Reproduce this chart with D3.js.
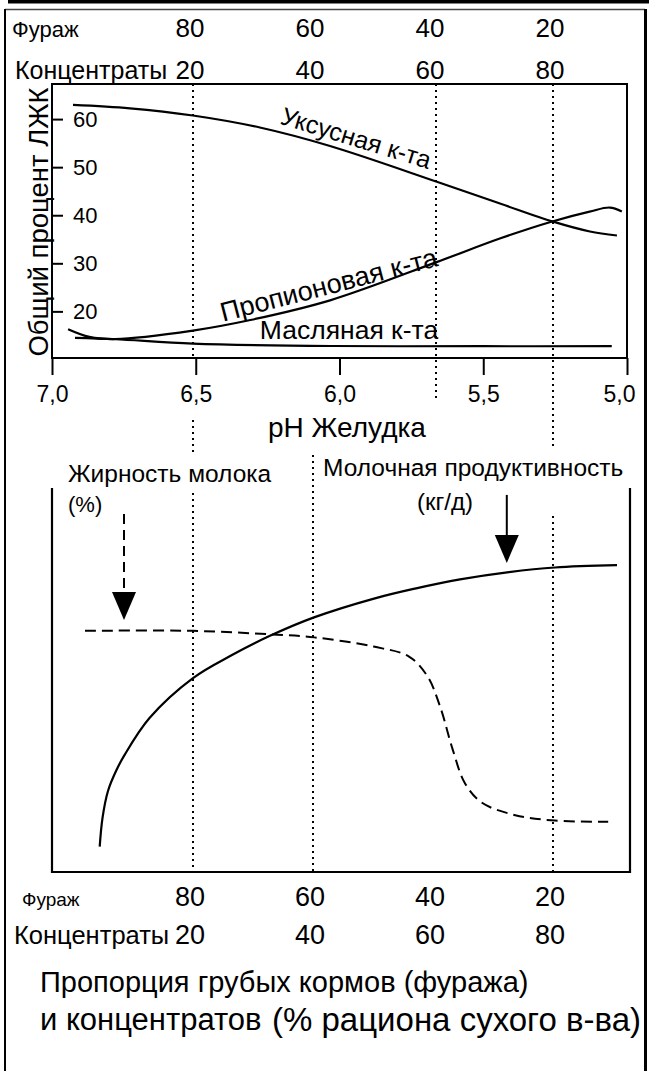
<!DOCTYPE html>
<html>
<head>
<meta charset="utf-8">
<script src="https://cdn.jsdelivr.net/npm/d3@7"></script>
<style>
  body { margin: 0; background: #fff; }
  svg text { font-family: "Liberation Sans", Arial, sans-serif; fill: #000; }
</style>
</head>
<body>
<div id="chart"></div>
<script>
// --- top panel: share of volatile fatty acids vs rumen pH ---
const phTicks = [7.0, 6.5, 6.0, 5.5, 5.0];
const vfaTicks = [20, 30, 40, 50, 60];
// [pH, % of total VFA]
const acetic = [[6.927, 62.95], [6.729, 62.24], [6.51, 60.75], [6.277, 58.25], [6.033, 54.4],
                [5.664, 47.02], [5.442, 42.44], [5.257, 38.66], [5.129, 36.62], [5.035, 35.79]];
const propionic = [[6.944, 16.3], [6.87, 14.7], [6.78, 14.25], [6.51, 16.0], [6.31, 18.2],
                   [6.03, 22.35], [5.66, 30.3], [5.44, 35.2], [5.26, 38.7], [5.13, 40.75],
                   [5.06, 41.6], [5.018, 40.8]];
const butyric = [[6.92, 14.5], [6.78, 14.2], [6.51, 13.3], [6.03, 12.8], [5.5, 12.75], [5.053, 12.75]];

// --- bottom panel: milk response vs forage share of ration (%) ---
const forageTicks = [80, 60, 40, 20];
const concTicks = [20, 40, 60, 80];
// [forage %, relative level]
const milkYield = [[95.55, 6.6], [95.08, 14.1], [94.17, 21.1], [92.83, 26.3], [91.4, 30.5], [87.25, 40.1],
                   [80, 50.5], [73.5, 56.5], [67.17, 61.5], [59.83, 66.3], [49.83, 71.2], [43, 73.8],
                   [35.5, 76.2], [27.33, 78.1], [19.67, 79.3], [9.33, 79.9]];
const milkFat = [[98, 62.8], [80, 62.8], [67.2, 61.9], [59.8, 61.1], [49.9, 58.7], [44, 56.1],
                 [40.9, 50.9], [38.8, 43.0], [36.7, 31.8], [34.7, 23.2], [31.9, 18.1], [26.3, 14.8],
                 [19.7, 13.4], [10.8, 13.1]];
// arrows: forage %, start level, tip level
const arrows = [{f: 91.5, from: 93.2, to: 65.6, dashed: true},
                {f: 27.7, from: 98.2, to: 80.5, dashed: false}];

const W = 649, H = 1071;
const top1 = 84, bot1 = 358, left1 = 52, right1 = 627;
const top2 = 488, bot2 = 872, left2 = 52, right2 = 630;

const svg = d3.select("#chart").append("svg")
    .attr("width", W)
    .attr("height", H);

svg.append("rect").attr("width", W).attr("height", H).attr("fill", "#fff");

// page frame
svg.append("rect").attr("x", 8).attr("y", 0).attr("width", W - 8).attr("height", 3.5).attr("fill", "#000");
svg.append("line").attr("x1", 5).attr("x2", 645).attr("y1", 9.5).attr("y2", 9.5)
    .attr("stroke", "#444").attr("stroke-width", 1.5);
svg.append("line").attr("x1", 5).attr("x2", 5).attr("y1", 9).attr("y2", H)
    .attr("stroke", "#000").attr("stroke-width", 2);
svg.append("line").attr("x1", 645.5).attr("x2", 645.5).attr("y1", 9).attr("y2", H)
    .attr("stroke", "#000").attr("stroke-width", 3);

// scales
const x1 = d3.scaleLinear().domain([7.0, 5.0]).range([left1, right1]);
const y1 = d3.scaleLinear().domain([10.3, 67.3]).range([bot1, top1]);
const xf = d3.scaleLinear().domain([80, 20]).range([193, 553]);
const y2 = d3.scaleLinear().domain([0, 100]).range([bot2, top2]);

// dotted guides (forage positions)
const guides = [
    {f: 80, segs: [[top1, bot1], [420, 455], [493, bot2]]},
    {f: 60, segs: [[455, bot2]]},
    {f: 40, segs: [[top1, 400]]},
    {f: 20, segs: [[top1, 450], [516, bot2]]}
];
guides.forEach(g => {
    svg.selectAll(null).data(g.segs).enter().append("line")
        .attr("x1", xf(g.f) + (g.f === 40 ? 3 : 0))
        .attr("x2", xf(g.f) + (g.f === 40 ? 3 : 0))
        .attr("y1", d => d[0])
        .attr("y2", d => d[1])
        .attr("stroke", "#000")
        .attr("stroke-width", 2)
        .attr("stroke-dasharray", "2,4");
});

// forage / concentrate header rows
function ratioRows(yA, yB, nameA, nameB, sizeNum, posA, posB) {
    svg.append("text").attr("x", posA[0]).attr("y", yA).style("font-size", posA[1] + "px").text(nameA);
    svg.append("text").attr("x", posB[0]).attr("y", yB).style("font-size", posB[1] + "px").text(nameB);
    svg.selectAll(null).data(forageTicks).enter().append("text")
        .attr("x", d => xf(d) - 3).attr("y", yA)
        .attr("text-anchor", "middle").style("font-size", sizeNum + "px")
        .text(d => d);
    svg.selectAll(null).data(concTicks).enter().append("text")
        .attr("x", (d, i) => xf(forageTicks[i]) - 3).attr("y", yB)
        .attr("text-anchor", "middle").style("font-size", sizeNum + "px")
        .text(d => d);
}
ratioRows(37, 79, "Фураж", "Концентраты", 26, [12, 22], [15, 25]);

// top panel box
svg.append("rect")
    .attr("x", left1).attr("y", top1)
    .attr("width", right1 - left1).attr("height", bot1 - top1)
    .attr("fill", "none").attr("stroke", "#000").attr("stroke-width", 2);

// y axis (ticks inward)
const yAxis = svg.append("g")
    .attr("transform", "translate(" + left1 + ",0)")
    .call(d3.axisRight(y1).tickValues(vfaTicks).tickSize(11).tickPadding(10));
yAxis.select(".domain").remove();
yAxis.selectAll("line").attr("stroke-width", 2);
yAxis.selectAll("text").style("font-size", "22px").attr("font-family", null);

// x axis (pH)
const xAxis = svg.append("g")
    .attr("transform", "translate(0," + bot1 + ")")
    .call(d3.axisBottom(x1).tickValues(phTicks).tickSize(17).tickPadding(11)
        .tickFormat(d => d3.format(".1f")(d).replace(".", ",")));
xAxis.select(".domain").remove();
xAxis.selectAll("line").attr("stroke-width", 2);
xAxis.selectAll("text").style("font-size", "23px").attr("font-family", null)
    .attr("dx", (d, i) => i === phTicks.length - 1 ? -8 : 0);

svg.append("text")
    .attr("x", 268).attr("y", 437)
    .style("font-size", "28px")
    .text("pH Желудка");

svg.append("text")
    .attr("transform", "translate(48,222) rotate(-90)")
    .attr("text-anchor", "middle")
    .style("font-size", "27.5px")
    .text("Общий процент ЛЖК");

const line1 = d3.line()
    .x(d => x1(d[0]))
    .y(d => y1(d[1]))
    .curve(d3.curveCatmullRom.alpha(0.5));

[acetic, propionic, butyric].forEach(s => {
    svg.append("path").datum(s)
        .attr("d", line1)
        .attr("fill", "none").attr("stroke", "#000").attr("stroke-width", 2.2);
});

svg.append("text")
    .attr("transform", "translate(" + x1(6.21) + "," + y1(59.1) + ") rotate(17)")
    .style("font-size", "25px").text("Уксусная к-та");
svg.append("text")
    .attr("transform", "translate(" + x1(6.405) + "," + y1(17.85) + ") rotate(-14.5)")
    .style("font-size", "27px").text("Пропионовая к-та");
svg.append("text")
    .attr("x", x1(6.277)).attr("y", y1(14.25))
    .style("font-size", "26.5px").text("Масляная к-та");

// bottom panel frame (no top line)
svg.append("path")
    .attr("d", "M" + left2 + "," + top2 + "V" + bot2 + "H" + right2 + "V" + top2)
    .attr("fill", "none").attr("stroke", "#000").attr("stroke-width", 2.2);

const line2 = d3.line()
    .x(d => xf(d[0]))
    .y(d => y2(d[1]))
    .curve(d3.curveCatmullRom.alpha(0.5));

svg.append("path").datum(milkYield)
    .attr("d", line2)
    .attr("fill", "none").attr("stroke", "#000").attr("stroke-width", 2.2);
svg.append("path").datum(milkFat)
    .attr("d", line2)
    .attr("fill", "none").attr("stroke", "#000").attr("stroke-width", 2)
    .attr("stroke-dasharray", "11,6");

arrows.forEach(a => {
    const ax = xf(a.f), tip = y2(a.to), head = tip - 28;
    svg.append("line")
        .attr("x1", ax).attr("x2", ax)
        .attr("y1", y2(a.from)).attr("y2", head + 2)
        .attr("stroke", "#000").attr("stroke-width", 2)
        .attr("stroke-dasharray", a.dashed ? "10,6" : null);
    svg.append("path")
        .attr("d", "M" + (ax - 12) + "," + head + "L" + (ax + 12) + "," + head + "L" + ax + "," + tip + "Z")
        .attr("fill", "#000");
});

svg.append("text").attr("x", 68).attr("y", 482).style("font-size", "24.5px").text("Жирность молока");
svg.append("text").attr("x", 68).attr("y", 512).style("font-size", "22px").text("(%)");
svg.append("text").attr("x", 323).attr("y", 476).style("font-size", "24.5px").text("Молочная продуктивность");
svg.append("text").attr("x", 417).attr("y", 510).style("font-size", "24px").text("(кг/д)");

ratioRows(906, 944, "Фураж", "Концентраты", 27, [22, 19], [14, 25.5]);

svg.append("text").attr("x", 40).attr("y", 992).style("font-size", "29px")
    .text("Пропорция грубых кормов (фуража)");
svg.append("text").attr("x", 40).attr("y", 1030).style("font-size", "31px")
    .text("и концентратов");
svg.append("text").attr("x", 272).attr("y", 1031).style("font-size", "33px")
    .text("(% рациона сухого в-ва)");
</script>
</body>
</html>
